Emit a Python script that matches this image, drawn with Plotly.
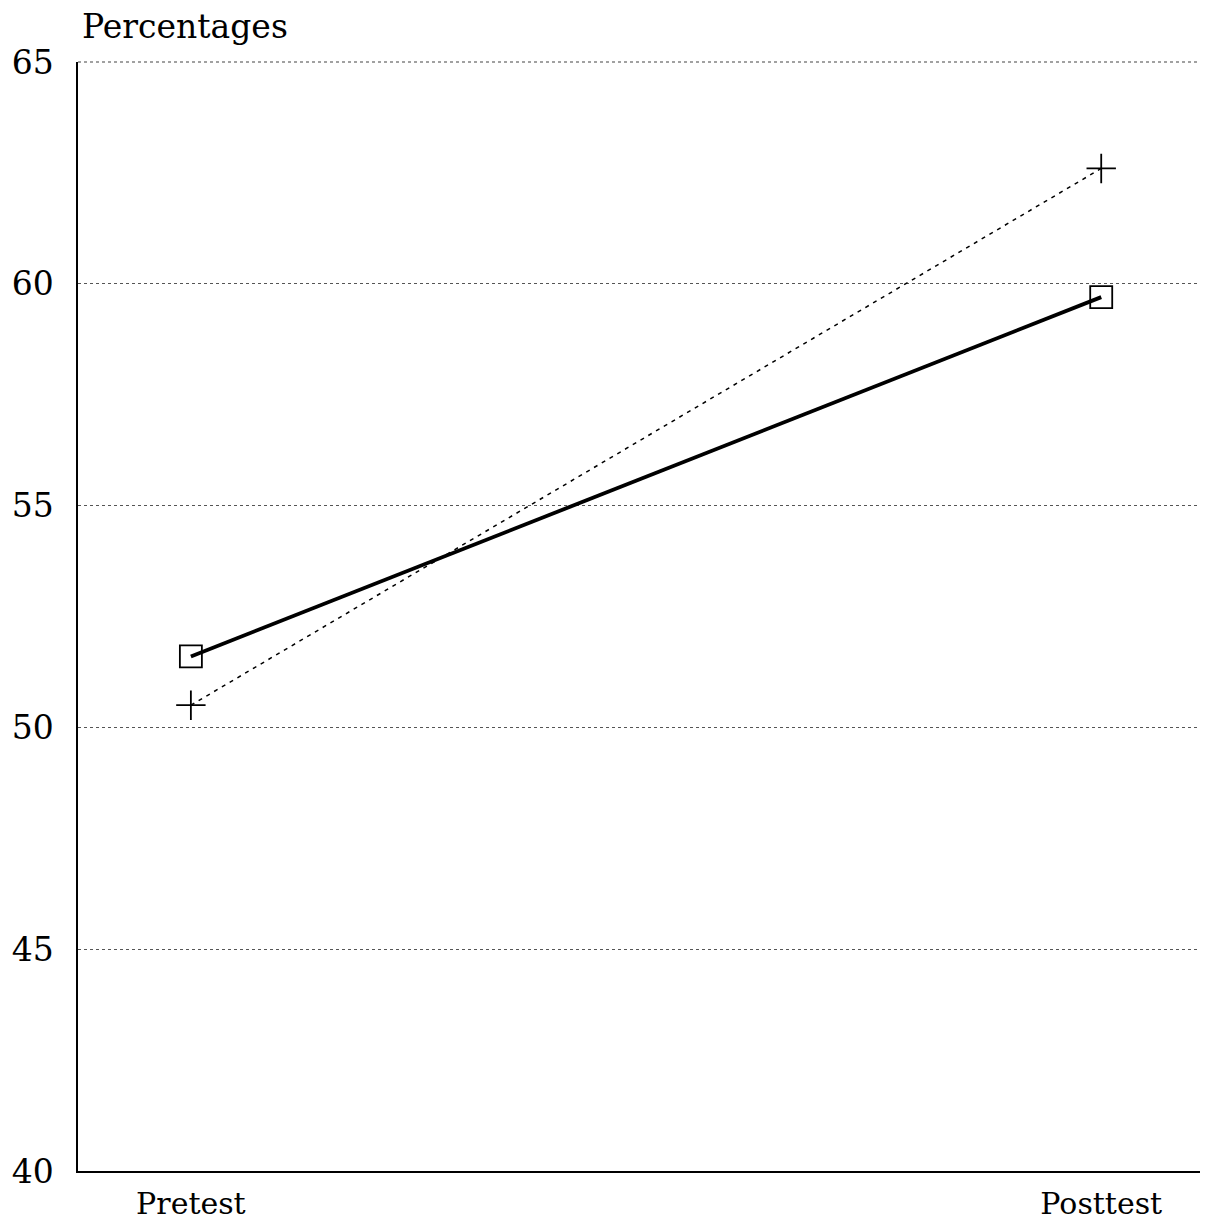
import plotly.graph_objects as go

categories = ["Pretest", "Posttest"]
x_pos = [0, 1]
series_square = [51.6, 59.7]
series_plus = [50.5, 62.6]
y_ticks = [40, 45, 50, 55, 60, 65]

FONT = "DejaVu Serif"

fig = go.Figure()
fig.add_trace(go.Scatter(
    x=x_pos, y=series_plus, mode="lines+markers",
    line=dict(color="black", width=1.5, dash="4px,5px"),
    marker=dict(symbol="cross-thin", size=21, line=dict(color="black", width=1.8)),
    showlegend=False, hoverinfo="skip"))
fig.add_trace(go.Scatter(
    x=x_pos, y=series_square, mode="lines+markers",
    line=dict(color="black", width=3.8),
    marker=dict(symbol="square-open", size=22, color="black", line=dict(color="black", width=1.8)),
    showlegend=False, hoverinfo="skip"))

fig.update_layout(
    width=1200, height=1216,
    margin=dict(l=70, r=3, t=54, b=51),
    paper_bgcolor="white", plot_bgcolor="white",
    font=dict(family=FONT, color="black"),
    xaxis=dict(range=[-0.124, 1.114], tickvals=x_pos, ticktext=categories,
               showgrid=False, zeroline=False, showline=True, linecolor="black",
               linewidth=1.5, ticks="", tickfont=dict(size=30, family=FONT),
               ticklabelstandoff=5),
    yaxis=dict(range=[40, 65], tickvals=y_ticks, showgrid=True,
               gridcolor="#555555", gridwidth=1, griddash="dot",
               zeroline=False, showline=True, linecolor="black", linewidth=1.5,
               ticks="", tickfont=dict(size=33, family=FONT), ticklabelstandoff=16),
    shapes=[dict(type="line", xref="paper", yref="paper", x0=0, x1=1, y0=1, y1=1,
                 line=dict(color="#444444", width=1.2, dash="dot"))],
    annotations=[dict(text="Percentages", xref="paper", yref="paper",
                      x=0, y=1, xanchor="left", yanchor="bottom", yshift=14, xshift=2,
                      showarrow=False, font=dict(size=33, family=FONT))],
)

fig.write_html("out.html")
